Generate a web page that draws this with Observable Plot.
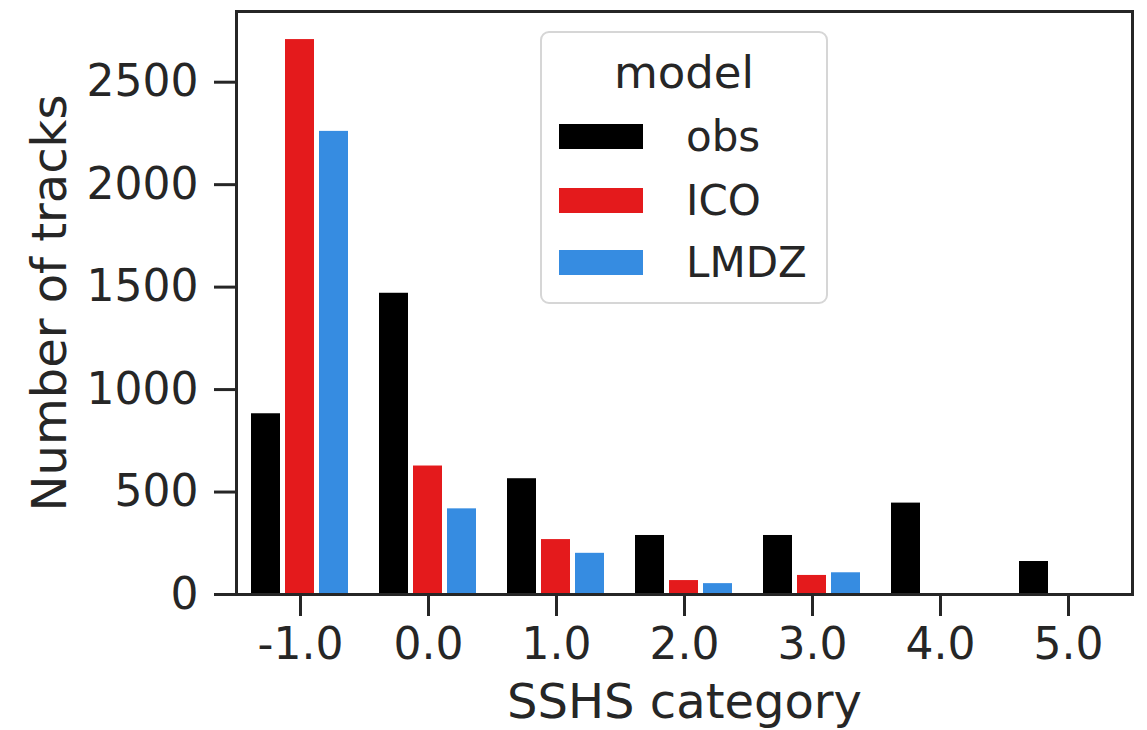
<!DOCTYPE html>
<html>
<head>
<meta charset="utf-8">
<script src="https://cdn.jsdelivr.net/npm/d3@7"></script>
<script src="https://cdn.jsdelivr.net/npm/@observablehq/plot@0.6"></script>
<style>
  html, body { margin: 0; padding: 0; background: #fff; }
  #chart svg { display: block; }
</style>
</head>
<body>
<div id="chart"></div>
<script>
// SSHS category labels (x axis)
const categories = ["-1.0", "0.0", "1.0", "2.0", "3.0", "4.0", "5.0"];
// Series, in legend order
const models = ["obs", "ICO", "LMDZ"];
const colors = ["#000000", "#e41a1c", "#368ce1"];
// Number of tracks per category for each series
const obsCounts  = [882, 1470, 565, 288, 288, 446, 161];
const icoCounts  = [2708, 627, 268, 68, 93, 0, 0];
const lmdzCounts = [2260, 418, 201, 53, 106, 0, 0];
const yTicks = [0, 500, 1000, 1500, 2000, 2500];

const series = [obsCounts, icoCounts, lmdzCounts];
const rows = [];
categories.forEach((c, i) => {
  models.forEach((m, j) => rows.push({category: c, model: m, count: series[j][i]}));
});

const ink = "#262626";
const font = "DejaVu Sans";

const chart = Plot.plot({
  width: 1147,
  height: 730,
  marginTop: 11,
  marginRight: 12,
  marginBottom: 136,
  marginLeft: 233,
  style: {fontFamily: font, background: "#fff", color: ink, overflow: "visible"},
  fx: {domain: categories, padding: 0},
  x: {domain: models, paddingInner: 0.14, paddingOuter: 0.445, axis: null},
  y: {domain: [0, 2845]},
  color: {domain: models, range: colors},
  marks: [
    Plot.barY(rows, {fx: "category", x: "model", y: "count", fill: "model"}),
    Plot.axisY({
      ticks: yTicks, tickFormat: d => String(d),
      tickSize: 22, tickPadding: 16, fontSize: 44, strokeWidth: 3, stroke: ink,
      label: "Number of tracks", labelAnchor: "center", labelOffset: 205, labelArrow: "none"
    }),
    Plot.axisFx({
      anchor: "bottom",
      tickSize: 22, tickPadding: 11, fontSize: 44, strokeWidth: 3, stroke: ink,
      label: "SSHS category", labelAnchor: "center", labelOffset: 123, labelArrow: "none"
    }),
    Plot.frame({facet: "super", stroke: ink, strokeWidth: 3})
  ]
});

const svg = d3.select(chart);
svg.selectAll('g[aria-label="y-axis label"], g[aria-label="fx-axis label"]').attr("font-size", 48);

// Legend box inside the plot area
const legend = svg.append("g").attr("font-family", font).attr("fill", ink);
legend.append("rect")
  .attr("x", 541).attr("y", 32).attr("width", 286).attr("height", 271).attr("rx", 8)
  .attr("fill", "#fff").attr("fill-opacity", 0.8)
  .attr("stroke", "#d6d6d6").attr("stroke-width", 2);
legend.append("text")
  .attr("x", 684).attr("y", 88).attr("text-anchor", "middle").attr("font-size", 45)
  .text("model");
const rowY = [124, 188, 250];
models.forEach((m, i) => {
  legend.append("rect")
    .attr("x", 559).attr("y", rowY[i]).attr("width", 84).attr("height", 25)
    .attr("fill", colors[i]);
  legend.append("text")
    .attr("x", 686).attr("y", rowY[i] + 27).attr("text-anchor", "start").attr("font-size", 42)
    .text(m);
});

document.getElementById("chart").appendChild(chart);
</script>
</body>
</html>
